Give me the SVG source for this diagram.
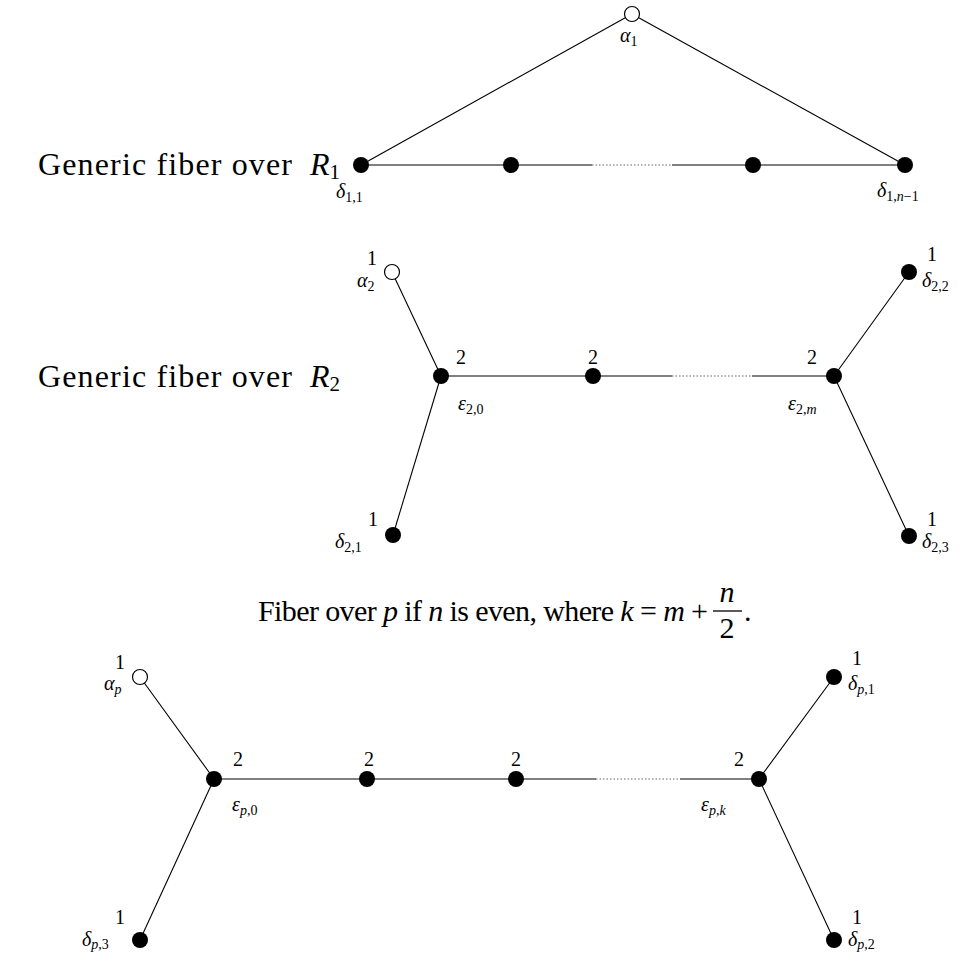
<svg xmlns="http://www.w3.org/2000/svg" width="961" height="954" viewBox="0 0 961 954">
<style>
.e{stroke:#000;stroke-width:1.1;fill:none}
.d{stroke:#666;stroke-width:1.1;stroke-dasharray:1.5 2;fill:none}
.f{fill:#000}
.o{fill:#fff;stroke:#000;stroke-width:1.2}
text{font-family:"Liberation Serif","Times New Roman","DejaVu Serif",serif;fill:#000}
.t{font-size:30px}
.g{font-size:32px}
.l{font-size:20px;font-style:italic}
.n{font-size:20px;text-anchor:middle}
.s{font-size:14px;font-style:normal}
.si{font-size:14px;font-style:italic}
</style>
<rect width="961" height="954" fill="#fff"/>
<text class="g" x="38" y="175" textLength="254" lengthAdjust="spacing">Generic fiber over</text>
<text class="g" x="310" y="175" font-style="italic">R<tspan font-size="21" font-style="normal" dy="4">1</tspan></text>
<text class="g" x="38" y="387" textLength="254" lengthAdjust="spacing">Generic fiber over</text>
<text class="g" x="310" y="387" font-style="italic">R<tspan font-size="21" font-style="normal" dy="4">2</tspan></text>
<text class="t" x="258" y="621" textLength="450" lengthAdjust="spacing">Fiber over <tspan font-style="italic">p</tspan> if <tspan font-style="italic">n</tspan> is even, where <tspan font-style="italic">k</tspan> = <tspan font-style="italic">m</tspan> +</text>
<text class="t" x="727" y="602" text-anchor="middle" font-style="italic">n</text>
<line x1="713" y1="611" x2="742" y2="611" stroke="#000" stroke-width="1.3"/>
<text class="t" x="727" y="638" text-anchor="middle">2</text>
<text class="t" x="744" y="621">.</text>
<g id="connectors">
<line class="e" x1="361" y1="165" x2="632" y2="14"/>
<line class="e" x1="632" y1="14" x2="905" y2="165"/>
<line class="e" x1="361" y1="165" x2="592" y2="165"/>
<line class="d" x1="592" y1="165" x2="672" y2="165"/>
<line class="e" x1="672" y1="165" x2="905" y2="165"/>
<line class="e" x1="392" y1="272" x2="441" y2="376"/>
<line class="e" x1="393" y1="535" x2="441" y2="376"/>
<line class="e" x1="441" y1="376" x2="672" y2="376"/>
<line class="d" x1="672" y1="376" x2="752" y2="376"/>
<line class="e" x1="752" y1="376" x2="834" y2="376"/>
<line class="e" x1="834" y1="376" x2="909" y2="272"/>
<line class="e" x1="834" y1="376" x2="909" y2="536"/>
<line class="e" x1="140" y1="677" x2="214" y2="779"/>
<line class="e" x1="140" y1="940" x2="214" y2="779"/>
<line class="e" x1="214" y1="779" x2="596" y2="779"/>
<line class="d" x1="596" y1="779" x2="680" y2="779"/>
<line class="e" x1="680" y1="779" x2="759" y2="779"/>
<line class="e" x1="759" y1="779" x2="834" y2="677"/>
<line class="e" x1="759" y1="779" x2="834" y2="940"/>
</g>
<g id="a1"><circle class="o" cx="632" cy="14" r="7.5"/><text class="l" x="620" y="42">α<tspan class="s" dy="4">1</tspan></text></g>
<g id="d11"><circle class="f" cx="361" cy="165" r="8"/><text class="l" x="336" y="198">δ<tspan class="s" dy="4">1,1</tspan></text></g>
<g id="n12"><circle class="f" cx="511" cy="165" r="8"/></g>
<g id="n13"><circle class="f" cx="753" cy="165" r="8"/></g>
<g id="d1n"><circle class="f" cx="905" cy="165" r="8"/><text class="l" x="877" y="197">δ<tspan class="s" dy="4">1,</tspan><tspan class="si">n</tspan><tspan class="s">−1</tspan></text></g>

<g id="a2"><circle class="o" cx="392" cy="272" r="7.5"/><text class="n" x="372" y="265">1</text><text class="l" x="357" y="287">α<tspan class="s" dy="4">2</tspan></text></g>
<g id="e20"><circle class="f" cx="441" cy="376" r="8"/><text class="n" x="461" y="364">2</text><text class="l" x="458" y="410">ε<tspan class="s" dy="4">2,0</tspan></text></g>
<g id="n22"><circle class="f" cx="593" cy="376" r="8"/><text class="n" x="593" y="364">2</text></g>
<g id="e2m"><circle class="f" cx="834" cy="376" r="8"/><text class="n" x="812" y="364">2</text><text class="l" x="788" y="410">ε<tspan class="s" dy="4">2,</tspan><tspan class="si">m</tspan></text></g>
<g id="d22"><circle class="f" cx="909" cy="272" r="8"/><text class="n" x="932" y="261">1</text><text class="l" x="922" y="287">δ<tspan class="s" dy="4">2,2</tspan></text></g>
<g id="d21"><circle class="f" cx="393" cy="535" r="8"/><text class="n" x="373" y="526">1</text><text class="l" x="335" y="548">δ<tspan class="s" dy="4">2,1</tspan></text></g>
<g id="d23"><circle class="f" cx="909" cy="536" r="8"/><text class="n" x="932" y="526">1</text><text class="l" x="922" y="548">δ<tspan class="s" dy="4">2,3</tspan></text></g>

<g id="ap"><circle class="o" cx="140" cy="677" r="7.5"/><text class="n" x="120" y="669">1</text><text class="l" x="104" y="690">α<tspan class="si" dy="4">p</tspan></text></g>
<g id="ep0"><circle class="f" cx="214" cy="779" r="8"/><text class="n" x="238" y="766">2</text><text class="l" x="232" y="811">ε<tspan class="si" dy="4">p</tspan><tspan class="s">,0</tspan></text></g>
<g id="np2"><circle class="f" cx="367" cy="779" r="8"/><text class="n" x="369" y="766">2</text></g>
<g id="np3"><circle class="f" cx="516" cy="779" r="8"/><text class="n" x="516" y="766">2</text></g>
<g id="epk"><circle class="f" cx="759" cy="779" r="8"/><text class="n" x="739" y="766">2</text><text class="l" x="701" y="811">ε<tspan class="si" dy="4">p</tspan><tspan class="s">,</tspan><tspan class="si">k</tspan></text></g>
<g id="dp1"><circle class="f" cx="834" cy="677" r="8"/><text class="n" x="857" y="665">1</text><text class="l" x="848" y="690">δ<tspan class="si" dy="4">p</tspan><tspan class="s">,1</tspan></text></g>
<g id="dp3"><circle class="f" cx="140" cy="940" r="8"/><text class="n" x="120" y="924">1</text><text class="l" x="82" y="946">δ<tspan class="si" dy="3">p</tspan><tspan class="s">,3</tspan></text></g>
<g id="dp2"><circle class="f" cx="834" cy="940" r="8"/><text class="n" x="857" y="924">1</text><text class="l" x="848" y="946">δ<tspan class="si" dy="3">p</tspan><tspan class="s">,2</tspan></text></g>
</svg>
